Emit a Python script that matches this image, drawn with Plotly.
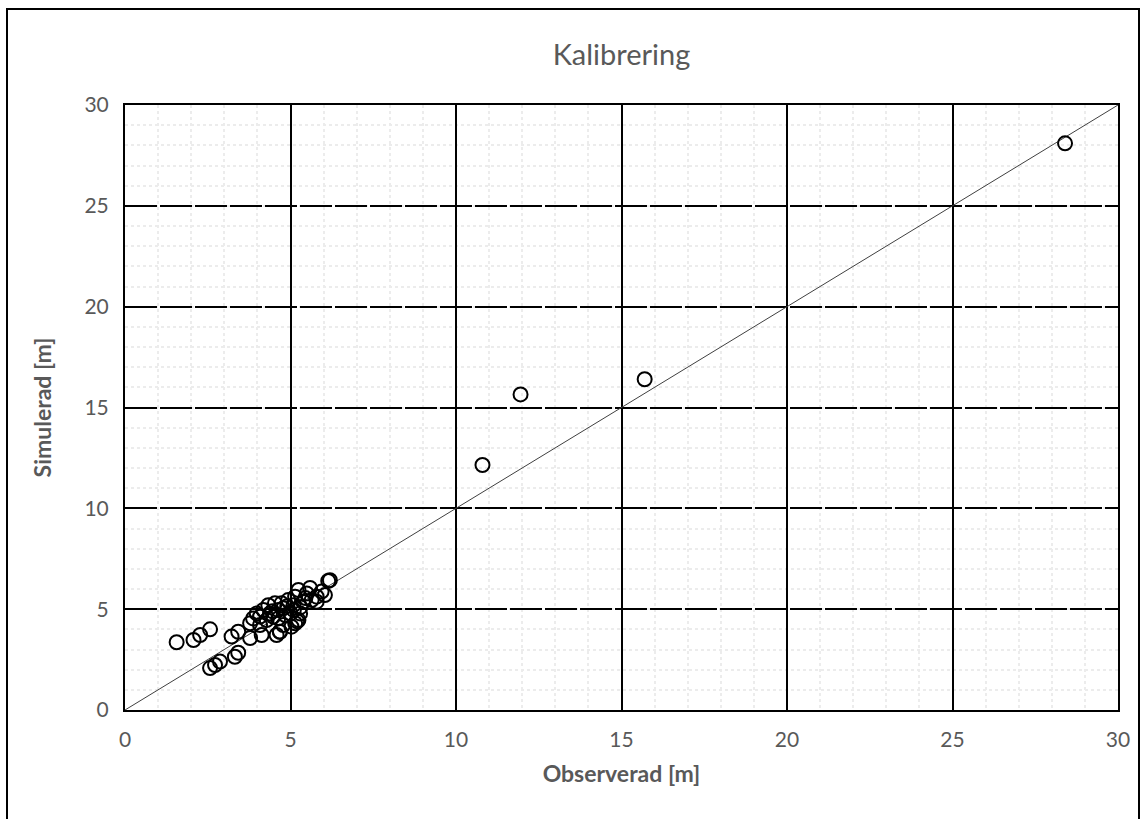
import plotly.graph_objects as go

# Observed / simulated values (m)
observed = [28.4, 15.7, 11.95, 10.8,
            1.56, 2.07, 2.27, 2.57, 2.57, 2.72, 2.87, 3.32, 3.42, 3.22, 3.42,
            3.78, 4.13, 4.58, 4.68, 5.14, 5.2, 6.19, 6.14,
            5.94, 5.79, 6.04, 5.59, 5.49, 5.24, 5.14, 4.93, 4.73, 4.53, 4.33,
            4.18, 3.98, 3.87, 3.78, 4.68, 5.24, 5.29, 5.0, 4.48, 4.28, 4.08,
            4.78, 5.03, 4.63, 4.78, 5.09, 5.39, 5.64, 5.79, 4.38, 4.08, 4.63,
            5.3, 4.9, 4.45, 5.1, 4.85, 5.45]
simulated = [28.1, 16.4, 15.65, 12.15,
             3.36, 3.47, 3.72, 4.0, 2.08, 2.23, 2.4, 2.64, 2.84, 3.64, 3.88,
             3.57, 3.72, 3.72, 3.88, 4.3, 4.4, 6.44, 6.4,
             5.87, 5.62, 5.7, 6.05, 5.78, 5.95, 5.62, 5.45, 5.29, 5.29, 5.2,
             4.96, 4.79, 4.54, 4.3, 3.88, 4.46, 4.79, 4.79, 4.63, 4.46, 4.21,
             4.21, 4.13, 4.96, 5.04, 5.2, 5.37, 5.45, 5.37, 4.79, 4.63, 4.54,
             5.1, 5.15, 4.9, 4.95, 4.7, 5.55]

line_x = [0, 30]
line_y = [0, 30]

tick_vals = [0, 5, 10, 15, 20, 25, 30]
tick_text = ["0", "5", "10", "15", "20", "25", "30"]

FONT = "Lato"
GREY = "#595959"

fig = go.Figure()
fig.add_trace(go.Scatter(x=line_x, y=line_y, mode="lines",
                         line=dict(color="#404040", width=1), hoverinfo="skip",
                         showlegend=False))
fig.add_trace(go.Scatter(x=observed, y=simulated, mode="markers",
                         marker=dict(symbol="circle-open", size=14,
                                     color="black", line=dict(width=2, color="black")),
                         showlegend=False))

W, H = 1146, 819
L, R, T, B = 125, 28, 105, 109
pw, ph = W - L - R, H - T - B

def px(xp):
    return (xp - L) / pw

def py(yp):
    return (H - B - yp) / ph

axis_common = dict(
    range=[0, 30], tickvals=tick_vals, ticktext=tick_text,
    showline=True, mirror=True, linecolor="black", linewidth=2,
    zeroline=False, ticks="", ticklabelstandoff=10,
    tickfont=dict(family=FONT, size=21, color=GREY),
    minor=dict(dtick=1, showgrid=True, gridcolor="#ececec", gridwidth=2,
               griddash="dot"),
    fixedrange=True,
)

fig.update_layout(
    width=W, height=H,
    margin=dict(l=L, r=R, t=T, b=B),
    paper_bgcolor="white", plot_bgcolor="white",
    title=dict(text="Kalibrering", x=0.5, xref="paper", xanchor="center",
               y=1 - 55 / H, yanchor="middle",
               font=dict(family=FONT, size=29, color=GREY)),
    xaxis=dict(**axis_common, showgrid=True, gridcolor="black", gridwidth=2,
               title=dict(text="<b>Observerad [m]</b>", standoff=16,
                          font=dict(family=FONT, size=23, color=GREY))),
    yaxis=dict(**axis_common, showgrid=True, gridcolor="black", gridwidth=2,
               griddash="32px,3px",
               title=dict(text="<b>Simulerad [m]</b>", standoff=26,
                          font=dict(family=FONT, size=23, color=GREY))),
    shapes=[dict(type="rect", xref="paper", yref="paper",
                 x0=px(7), x1=px(1139), y0=py(830), y1=py(9),
                 line=dict(color="black", width=2), layer="below")],
)

fig.write_html("out.html")
